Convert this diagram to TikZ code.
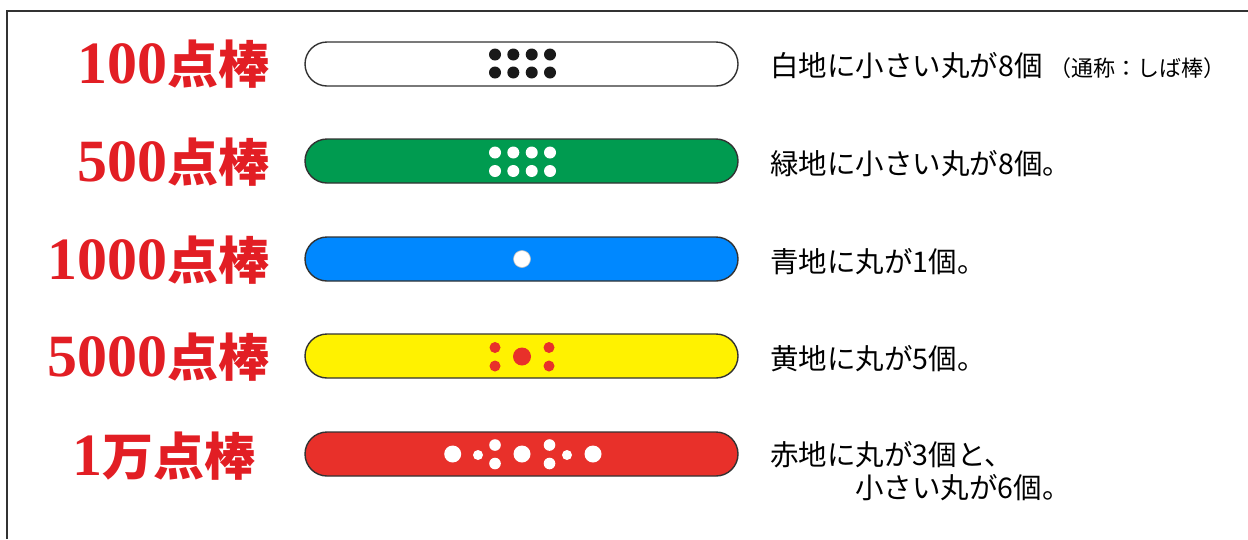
\documentclass[tikz,border=0pt]{standalone}
\usepackage{fontspec}
\setmainfont{Liberation Serif}
\newfontfamily\jp{Noto Sans CJK JP}
\newfontfamily\dig{Liberation Serif}
\usetikzlibrary{shapes.misc}
\definecolor{lblred}{RGB}{226,30,36}
\definecolor{pgreen}{RGB}{0,155,80}
\definecolor{pblue}{RGB}{0,136,255}
\definecolor{pyellow}{RGB}{255,242,0}
\definecolor{pred}{RGB}{232,48,42}
\definecolor{outl}{RGB}{50,50,50}
\newcommand\lbltext[2]{{\dig\bfseries\fontsize{60}{60}\selectfont #1}{\jp\bfseries\fontsize{51}{51}\selectfont #2}}
\begin{document}
\begin{tikzpicture}[x=1pt,y=-1pt,
  pill/.style={rounded rectangle, draw=outl, line width=1.4pt, minimum width=433pt, minimum height=44pt, inner sep=0pt},
  lbl/.style={anchor=east, text=lblred, inner sep=0pt},
  desc/.style={anchor=west, inner sep=0pt, font=\jp\fontsize{28.5}{28.5}\selectfont},
]
\useasboundingbox (0,0) rectangle (1248,539);
\draw[line width=1.5pt, draw=outl] (7,539) -- (7,11) -- (1248,11);

% labels
\node[lbl] (l1) at (270,64) {\lbltext{100}{点棒}};
\node[lbl] (l2) at (270,162) {\lbltext{500}{点棒}};
\node[lbl] (l3) at (270,260) {\lbltext{1000}{点棒}};
\node[lbl] (l4) at (270,357) {\lbltext{5000}{点棒}};
\node[lbl] (l5) at (256,456) {\lbltext{1}{万点棒}};

% pills
\node[pill, fill=white]   (p1) at (521.5,64) {};
\node[pill, fill=pgreen]  (p2) at (521.5,161) {};
\node[pill, fill=pblue]   (p3) at (521.5,259) {};
\node[pill, fill=pyellow] (p4) at (521.5,356) {};
\node[pill, fill=pred]    (p5) at (521.5,454) {};

% dots row 1 and 2
\foreach \x in {495,513.3,531.7,550}{
  \fill[black!90] (\x,54.5) circle (6pt);
  \fill[black!90] (\x,72.5) circle (6pt);
  \fill[white] (\x,152.5) circle (6pt);
  \fill[white] (\x,171) circle (6pt);
}
% row 3
\filldraw[fill=white, draw=black!25, line width=0.6pt] (522,259) circle (8.5pt);
% row 4
\fill[pred] (495,347.5) circle (5.5pt);
\fill[pred] (495,366) circle (5.5pt);
\fill[pred] (549,347.5) circle (5.5pt);
\fill[pred] (549,366) circle (5.5pt);
\fill[pred] (522,356.5) circle (9pt);
% row 5
\foreach \x in {452.7,522,593}{\fill[white] (\x,454) circle (8.5pt);}
\fill[white] (478,455) circle (5pt);
\fill[white] (567,455) circle (5pt);
\foreach \x in {495,549.5}{
  \fill[white] (\x,445) circle (5.8pt);
  \fill[white] (\x,463.5) circle (5.8pt);
}

% descriptions
\node[desc] (d1) at (770,66) {白地に小さい丸が8個\hspace{7pt}{\fontsize{22}{22}\selectfont （通称：しば棒）}};
\node[desc] (d2) at (770,164) {緑地に小さい丸が8個。};
\node[desc] (d3) at (770,262) {青地に丸が1個。};
\node[desc] (d4) at (770,359) {黄地に丸が5個。};
\node[desc] (d5) at (770,455) {赤地に丸が3個と、};
\node[desc] (d6) at (855,488) {小さい丸が6個。};
\end{tikzpicture}
\end{document}
